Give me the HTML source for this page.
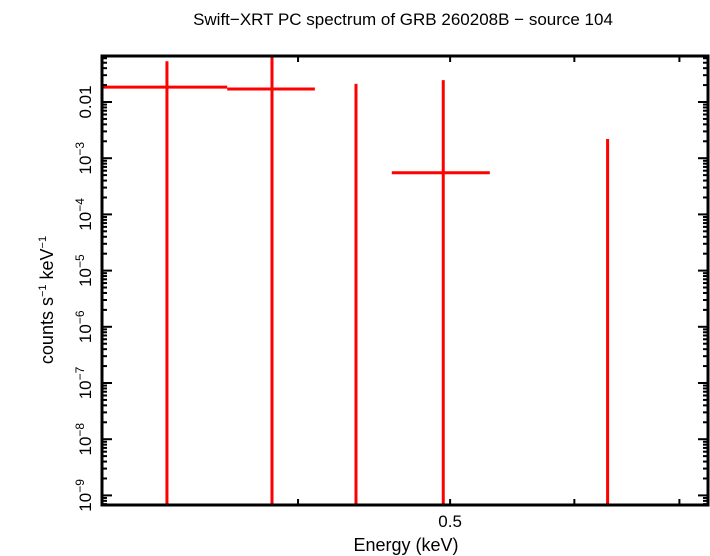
<!DOCTYPE html>
<html><head><meta charset="utf-8"><style>body{margin:0;background:#fff}svg{display:block}text{font-family:"Liberation Sans",sans-serif}</style></head>
<body>
<svg id="c" width="710" height="556">
<text x="403" y="25" font-size="17" text-anchor="middle">Swift−XRT PC spectrum of GRB 260208B − source 104</text>
<text x="406" y="551" font-size="18" text-anchor="middle">Energy (keV)</text>
<text transform="translate(53,300) rotate(-90)" font-size="18" text-anchor="middle">counts s<tspan font-size="11" dy="-7">−1</tspan><tspan dy="7"> keV</tspan><tspan font-size="11" dy="-7">−1</tspan></text>
<g id="marks"></g>
<g id="axes"></g>
</svg>
<script>
const energies=[0.330,0.385,0.4355,0.495,0.630];
const eLow=[0.300,0.3605,null,0.459,null];
const eHigh=[0.3605,0.410,null,0.530,null];
const rates=[0.0184,0.0170,null,5.5e-4,null];
const rateUpper=[0.053,0.08,0.021,0.0245,2.2e-3];
const rateLower=[1e-12,1e-12,1e-12,1e-12,1e-12];
const yTickExp=[-2,-3,-4,-5,-6,-7,-8,-9];
const xTickLabels=[0.5];
const L=102,R=708,T=56,B=505;
const xmin=0.300,xmax=0.730;
const X=e=>L+(Math.log10(e)-Math.log10(xmin))/(Math.log10(xmax)-Math.log10(xmin))*(R-L);
const Y=v=>102+(-2-Math.log10(v))*56.2;
const ns="http://www.w3.org/2000/svg";
function mk(tag,at,p){const el=document.createElementNS(ns,tag);for(const k in at)el.setAttribute(k,at[k]);p.appendChild(el);return el;}
const m=document.getElementById('marks'),a=document.getElementById('axes');
const cl=v=>Math.max(T,Math.min(B,v));
energies.forEach((e,i)=>{
 const g=mk('g',{},m);
 
 
 mk('line',{x1:X(e),x2:X(e),y1:cl(Y(rateUpper[i])),y2:cl(Y(rateLower[i])),stroke:'#f00','stroke-width':3},g);
 if(rates[i]!==null){mk('line',{x1:X(eLow[i]),x2:X(eHigh[i]),y1:Y(rates[i]),y2:Y(rates[i]),stroke:'#f00','stroke-width':3},g);}
});
const fr=mk('rect',{x:L,y:T,width:R-L,height:B-T,fill:'none',stroke:'#000','stroke-width':3},a);


for(let d=-10;d<=-1;d++){for(let k=1;k<10;k++){const v=k*Math.pow(10,d);const y=Y(v);if(y<T||y>B)continue;const len=k===1?10:5;
 mk('line',{x1:L,x2:L+len,y1:y,y2:y,stroke:'#000','stroke-width':2},a);
 mk('line',{x1:R-len,x2:R,y1:y,y2:y,stroke:'#000','stroke-width':2},a);}}
yTickExp.forEach(p=>{const y=Y(Math.pow(10,p));const t=mk('text',{transform:`translate(91,${y}) rotate(-90)`,'font-size':17,'text-anchor':'middle'},a);
 
 
 if(p===-2)t.textContent='0.01';else{t.textContent='10';const s=mk('tspan',{'font-size':12,dy:-7},t);s.textContent='−'+(-p);}});
[0.4,0.5,0.6,0.7].forEach(e=>{const x=X(e);mk('line',{x1:x,x2:x,y1:B,y2:B-6,stroke:'#000','stroke-width':2},a);mk('line',{x1:x,x2:x,y1:T,y2:T+6,stroke:'#000','stroke-width':2},a);});
xTickLabels.forEach(e=>{const t=mk('text',{x:X(e),y:527,'font-size':17,'text-anchor':'middle'},a);
 
 
 t.textContent=String(e);});
</script>
</body></html>
